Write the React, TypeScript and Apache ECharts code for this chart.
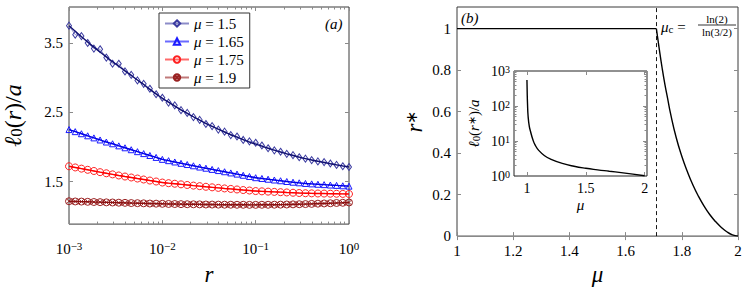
import React, { useEffect, useRef } from 'react';
import * as echarts from 'echarts';

// ---------- data ----------
const rGrid = [
  0.001, 0.001166, 0.001359, 0.001585, 0.001848, 0.002154, 0.002512, 0.002929, 0.003415, 0.003981,
  0.004642, 0.005412, 0.00631, 0.007356, 0.008577, 0.01, 0.01166, 0.01359, 0.01585, 0.01848,
  0.02154, 0.02512, 0.02929, 0.03415, 0.03981, 0.04642, 0.05412, 0.0631, 0.07356, 0.08577,
  0.1, 0.1166, 0.1359, 0.1585, 0.1848, 0.2154, 0.2512, 0.2929, 0.3415, 0.3981,
  0.4642, 0.5412, 0.631, 0.7356, 0.8577, 1,
];
const mu15Markers = [
  3.75, 3.62, 3.6, 3.5, 3.42, 3.41, 3.29, 3.2, 3.2, 3.09, 3.04, 2.96, 2.91, 2.84, 2.76, 2.71,
  2.64, 2.6, 2.53, 2.49, 2.43, 2.39, 2.33, 2.3, 2.25, 2.22, 2.17, 2.15, 2.1, 2.08, 2.06, 2.02,
  1.98, 1.95, 1.93, 1.9, 1.88, 1.85, 1.83, 1.81, 1.79, 1.78, 1.76, 1.74, 1.72, 1.71,
];
const mu15Fit = [
  3.75, 3.67, 3.59, 3.515, 3.44, 3.37, 3.3, 3.23, 3.165, 3.098, 3.032, 2.966, 2.9, 2.83, 2.765, 2.7,
  2.645, 2.59, 2.535, 2.485, 2.435, 2.385, 2.34, 2.295, 2.255, 2.215, 2.175, 2.14, 2.105, 2.07, 2.04,
  2.01, 1.98, 1.953, 1.926, 1.9, 1.875, 1.852, 1.83, 1.81, 1.792, 1.774, 1.757, 1.741, 1.725, 1.71,
];
const mu165Values = [
  2.25, 2.22, 2.19, 2.16, 2.13, 2.1, 2.07, 2.045, 2.015, 1.987, 1.959, 1.931, 1.903, 1.876, 1.848, 1.82,
  1.801, 1.782, 1.763, 1.745, 1.727, 1.709, 1.692, 1.675, 1.658, 1.641, 1.624, 1.607, 1.59, 1.572, 1.555,
  1.544, 1.533, 1.522, 1.511, 1.5, 1.49, 1.481, 1.472, 1.466, 1.46, 1.455, 1.449, 1.444, 1.438, 1.433,
];
const mu175Values = [
  1.72, 1.703, 1.686, 1.669, 1.652, 1.635, 1.619, 1.603, 1.587, 1.572, 1.558, 1.543, 1.529, 1.514, 1.5, 1.485,
  1.476, 1.468, 1.459, 1.45, 1.441, 1.433, 1.424, 1.416, 1.408, 1.4, 1.393, 1.385, 1.377, 1.37, 1.362,
  1.358, 1.354, 1.35, 1.346, 1.342, 1.338, 1.334, 1.331, 1.329, 1.327, 1.326, 1.324, 1.323, 1.321, 1.32,
];
const mu19Values = [
  1.215, 1.212, 1.21, 1.207, 1.204, 1.202, 1.199, 1.197, 1.194, 1.192, 1.189, 1.187, 1.185, 1.182, 1.18, 1.178,
  1.176, 1.175, 1.173, 1.172, 1.171, 1.17, 1.168, 1.167, 1.166, 1.165, 1.165, 1.164, 1.164, 1.163, 1.163,
  1.164, 1.164, 1.165, 1.166, 1.168, 1.17, 1.172, 1.174, 1.177, 1.18, 1.183, 1.186, 1.19, 1.193, 1.197,
];
const legendNames = ['μ = 1.5', 'μ = 1.65', 'μ = 1.75', 'μ = 1.9'];

const muC = 1.7095;
const muFlat = [1, muC];
const rFlat = [1, 1];
const muDrop = [muC, 1.72, 1.73, 1.74, 1.75, 1.76, 1.78, 1.8, 1.82, 1.84, 1.86, 1.88, 1.9, 1.92, 1.94, 1.96, 1.98, 2.0];
const rDrop = [1, 0.9, 0.81, 0.73, 0.66, 0.59, 0.475, 0.385, 0.31, 0.245, 0.19, 0.143, 0.103, 0.07, 0.043, 0.021, 0.006, 0];

const insetMu = [1.0, 1.002, 1.005, 1.01, 1.02, 1.03, 1.05, 1.07, 1.1, 1.15, 1.2, 1.3, 1.4, 1.5, 1.6, 1.7, 1.8, 1.9, 2.0];
const insetL = [550, 250, 110, 50, 26, 19, 11, 7.6, 5.4, 3.8, 3.05, 2.3, 1.9, 1.66, 1.5, 1.37, 1.25, 1.13, 1.02];

const yTicksA = [1.5, 2.5, 3.5];
const xMinorA = [
  0.002, 0.003, 0.004, 0.005, 0.006, 0.007, 0.008, 0.009,
  0.02, 0.03, 0.04, 0.05, 0.06, 0.07, 0.08, 0.09,
  0.2, 0.3, 0.4, 0.5, 0.6, 0.7, 0.8, 0.9,
];
const yTicksB = [0, 0.2, 0.4, 0.6, 0.8, 1];
const xTicksInset = [1, 1.5, 2];
const yMinorInset = [2, 3, 4, 5, 6, 7, 8, 9, 20, 30, 40, 50, 60, 70, 80, 90, 200, 300, 400, 500, 600, 700, 800, 900];

// ---------- styles ----------
const FONT = 'Liberation Serif';
const TICK = '#8a8a8a';
const FRAME = '#3a3a3a';

const supLabel = (v: number) => {
  const e = Math.round(Math.log10(v));
  return `10{sup|${e < 0 ? '−' + -e : e}}`;
};
const richBase = (size: number) => ({
  i: { fontStyle: 'italic', fontFamily: FONT, fontSize: size, color: '#000' },
  n: { fontStyle: 'normal', fontFamily: FONT, fontSize: size, color: '#000' },
  sup: { fontStyle: 'normal', fontFamily: FONT, fontSize: Math.round(size * 0.7), verticalAlign: 'top', color: '#000' },
  sub: { fontStyle: 'normal', fontFamily: FONT, fontSize: Math.round(size * 0.7), verticalAlign: 'bottom', color: '#000' },
});

const tick = (len: number, custom?: number[]) => ({
  show: true,
  inside: true,
  length: len,
  lineStyle: { color: TICK, width: 1 },
  ...(custom ? { customValues: custom } : {}),
});
const noLabel = { show: false };
const noLine = { show: false };
const noSplit = { show: false };
const lbl = (size: number, extra: any = {}) => ({
  fontFamily: FONT, fontStyle: 'normal', fontSize: size, color: '#000', ...extra,
});

function buildOption(): any {
  const pairs = (xs: number[], ys: number[]) => xs.map((x, i) => [x, ys[i]]);

  const markerSeries = (
    name: string,
    ys: number[],
    symbol: string,
    size: any,
    markColor: string,
    lineColor: string
  ) => ({
    type: 'line',
    name,
    xAxisIndex: 0,
    yAxisIndex: 0,
    data: pairs(rGrid, ys),
    symbol,
    symbolSize: size,
    showSymbol: true,
    itemStyle: { color: 'rgba(255,255,255,0)', borderColor: markColor, borderWidth: 1 },
    lineStyle: { color: lineColor, width: 1 },
    z: 3,
  });
  const fitSeries = (ys: number[], color: string) => ({
    type: 'line',
    name: 'fit',
    xAxisIndex: 0,
    yAxisIndex: 0,
    data: pairs(rGrid, ys),
    symbol: 'none',
    smooth: true,
    lineStyle: { color, width: 1.4 },
    z: 4,
  });

  const circleX = 'path://M0,-10 A10,10 0 1,1 0,10 A10,10 0 1,1 0,-10 Z M-7,-7 L7,7 M7,-7 L-7,7';

  return {
    animation: false,
    backgroundColor: '#fff',
    grid: [
      { left: 66, top: 7, width: 283, height: 235, show: true, borderColor: FRAME, borderWidth: 1, backgroundColor: 'rgba(0,0,0,0)' },
      { left: 457, top: 7, width: 281, height: 234, show: true, borderColor: FRAME, borderWidth: 1, backgroundColor: 'rgba(0,0,0,0)' },
      { left: 514, top: 71, width: 133, height: 105, show: true, borderColor: '#222', borderWidth: 1, backgroundColor: '#fff' },
    ],
    legend: {
      data: legendNames,
      orient: 'vertical',
      left: 159,
      top: 13,
      padding: [3, 6, 3, 5],
      itemGap: 3,
      itemWidth: 24,
      itemHeight: 8,
      borderColor: '#333',
      borderWidth: 1,
      backgroundColor: '#fff',
      formatter: (n: string) => n.replace('μ', '{i|μ}'),
      textStyle: lbl(15, { rich: richBase(15) }),
    },
    xAxis: [
      {
        gridIndex: 0, type: 'log', logBase: 10, min: 0.001, max: 1, position: 'bottom',
        axisLine: noLine, splitLine: noSplit, minorTick: { show: false },
        axisTick: tick(4),
        axisLabel: lbl(15, { formatter: supLabel, margin: 16, lineHeight: 18, rich: richBase(15) }),
        name: 'r', nameLocation: 'middle', nameGap: 26,
        nameTextStyle: lbl(23, { fontStyle: 'italic' }),
      },
      { gridIndex: 0, type: 'log', logBase: 10, min: 0.001, max: 1, position: 'top', axisLine: noLine, splitLine: noSplit, axisLabel: noLabel, axisTick: tick(4) },
      { gridIndex: 0, type: 'log', logBase: 10, min: 0.001, max: 1, position: 'bottom', axisLine: noLine, splitLine: noSplit, axisLabel: noLabel, axisTick: tick(2.5, xMinorA) },
      { gridIndex: 0, type: 'log', logBase: 10, min: 0.001, max: 1, position: 'top', axisLine: noLine, splitLine: noSplit, axisLabel: noLabel, axisTick: tick(2.5, xMinorA) },
      {
        gridIndex: 1, type: 'value', min: 1, max: 2, interval: 0.2, position: 'bottom',
        axisLine: noLine, splitLine: noSplit, axisTick: tick(4),
        axisLabel: lbl(15, { margin: 7 }),
        name: 'μ', nameLocation: 'middle', nameGap: 23,
        nameTextStyle: lbl(23, { fontStyle: 'italic' }),
      },
      { gridIndex: 1, type: 'value', min: 1, max: 2, interval: 0.2, position: 'top', axisLine: noLine, splitLine: noSplit, axisLabel: noLabel, axisTick: tick(4) },
      {
        gridIndex: 2, type: 'value', min: 0.89, max: 2.02, position: 'bottom',
        axisLine: noLine, splitLine: noSplit, axisTick: tick(4, xTicksInset),
        axisLabel: lbl(14, { customValues: xTicksInset, margin: 5 }),
        name: 'μ', nameLocation: 'middle', nameGap: 21,
        nameTextStyle: lbl(15, { fontStyle: 'italic' }),
      },
      { gridIndex: 2, type: 'value', min: 0.89, max: 2.02, position: 'top', axisLine: noLine, splitLine: noSplit, axisLabel: noLabel, axisTick: tick(4, xTicksInset) },
    ],
    yAxis: [
      {
        gridIndex: 0, type: 'value', min: 0.885, max: 4.02, position: 'left',
        axisLine: noLine, splitLine: noSplit, axisTick: tick(4, yTicksA),
        axisLabel: lbl(15, { customValues: yTicksA, margin: 6 }),
        name: '{i|ℓ}{sub|0}{n|(}{i|r}{n|)/}{i|a}', nameLocation: 'middle', nameRotate: 90, nameGap: 44,
        nameTextStyle: lbl(24, { rich: richBase(24) }),
      },
      { gridIndex: 0, type: 'value', min: 0.885, max: 4.02, position: 'right', axisLine: noLine, splitLine: noSplit, axisLabel: noLabel, axisTick: tick(4, yTicksA) },
      {
        gridIndex: 1, type: 'value', min: 0, max: 1.104, position: 'left',
        axisLine: noLine, splitLine: noSplit, axisTick: tick(4, yTicksB),
        axisLabel: lbl(15, { customValues: yTicksB, margin: 6 }),
        name: '{i|r}{sup|∗}', nameLocation: 'middle', nameRotate: 90, nameGap: 31,
        nameTextStyle: lbl(23, { rich: richBase(23) }),
      },
      { gridIndex: 1, type: 'value', min: 0, max: 1.104, position: 'right', axisLine: noLine, splitLine: noSplit, axisLabel: noLabel, axisTick: tick(4, yTicksB) },
      {
        gridIndex: 2, type: 'log', logBase: 10, min: 1, max: 1000, position: 'left',
        axisLine: noLine, splitLine: noSplit, minorTick: { show: false }, axisTick: tick(4),
        axisLabel: lbl(14, { formatter: supLabel, margin: 4, rich: richBase(14) }),
        name: '{i|ℓ}{sub|0}{n|(}{i|r}{sup|∗}{n|)/}{i|a}', nameLocation: 'middle', nameRotate: 90, nameGap: 33,
        nameTextStyle: lbl(15, { rich: richBase(15) }),
      },
      { gridIndex: 2, type: 'log', logBase: 10, min: 1, max: 1000, position: 'right', axisLine: noLine, splitLine: noSplit, axisLabel: noLabel, axisTick: tick(4) },
      { gridIndex: 2, type: 'log', logBase: 10, min: 1, max: 1000, position: 'left', axisLine: noLine, splitLine: noSplit, axisLabel: noLabel, axisTick: tick(2.5, yMinorInset) },
      { gridIndex: 2, type: 'log', logBase: 10, min: 1, max: 1000, position: 'right', axisLine: noLine, splitLine: noSplit, axisLabel: noLabel, axisTick: tick(2.5, yMinorInset) },
    ],
    graphic: [
      { type: 'text', left: 325, top: 16, style: { text: '(a)', fontFamily: FONT, fontStyle: 'italic', fontSize: 15, fill: '#000' } },
      { type: 'text', left: 461, top: 10, style: { text: '(b)', fontFamily: FONT, fontStyle: 'italic', fontSize: 15, fill: '#000' } },
      {
        type: 'text', left: 661, top: 19,
        style: { text: '{i|μ}{sub|c}{n| =}', fontFamily: FONT, fontSize: 15, fill: '#000', rich: richBase(15) },
      },
      { type: 'text', x: 717, y: 19, style: { text: 'ln(2)', fontFamily: FONT, fontSize: 11, fill: '#000', align: 'center', verticalAlign: 'middle' } },
      { type: 'line', shape: { x1: 698, y1: 25, x2: 736, y2: 25 }, style: { stroke: '#000', lineWidth: 0.8 } },
      { type: 'text', x: 717, y: 31.5, style: { text: 'ln(3/2)', fontFamily: FONT, fontSize: 11, fill: '#000', align: 'center', verticalAlign: 'middle' } },
    ],
    series: [
      markerSeries(legendNames[0], mu15Markers, 'diamond', [5, 7], '#3a3aa0', '#8c8cc8'),
      fitSeries(mu15Fit, '#101070'),
      markerSeries(legendNames[1], mu165Values, 'triangle', 6, '#1a1aff', '#6a6aff'),
      fitSeries(mu165Values, '#0000e6'),
      markerSeries(legendNames[2], mu175Values, 'circle', 7, '#ff2020', '#ff6a6a'),
      fitSeries(mu175Values, '#ff0000'),
      markerSeries(legendNames[3], mu19Values, circleX, 7, '#9a2222', '#c07a7a'),
      fitSeries(mu19Values, '#8a1010'),
      {
        type: 'line', name: 'flat', xAxisIndex: 4, yAxisIndex: 2,
        data: pairs(muFlat, rFlat), symbol: 'none', lineStyle: { color: '#000', width: 1.4 },
        markLine: {
          silent: true, symbol: 'none', label: { show: false },
          lineStyle: { color: '#000', type: [4, 3], width: 0.9 },
          data: [{ xAxis: muC }],
        },
      },
      {
        type: 'line', name: 'drop', xAxisIndex: 4, yAxisIndex: 2,
        data: pairs(muDrop, rDrop), symbol: 'none', smooth: true,
        lineStyle: { color: '#000', width: 1.4 },
      },
      {
        type: 'line', name: 'inset', xAxisIndex: 6, yAxisIndex: 4,
        data: pairs(insetMu, insetL), symbol: 'none', smooth: true,
        lineStyle: { color: '#000', width: 1.4 },
      },
    ],
  };
}

export default function App() {
  const ref = useRef<HTMLDivElement>(null);
  useEffect(() => {
    const chart = echarts.init(ref.current!, null, { renderer: 'svg' });
    chart.setOption(buildOption());
    return () => chart.dispose();
  }, []);
  return (
    <div
      ref={ref}
      style={{ position: 'fixed', left: 0, top: 0, width: 747, height: 291, background: '#fff' }}
    />
  );
}
